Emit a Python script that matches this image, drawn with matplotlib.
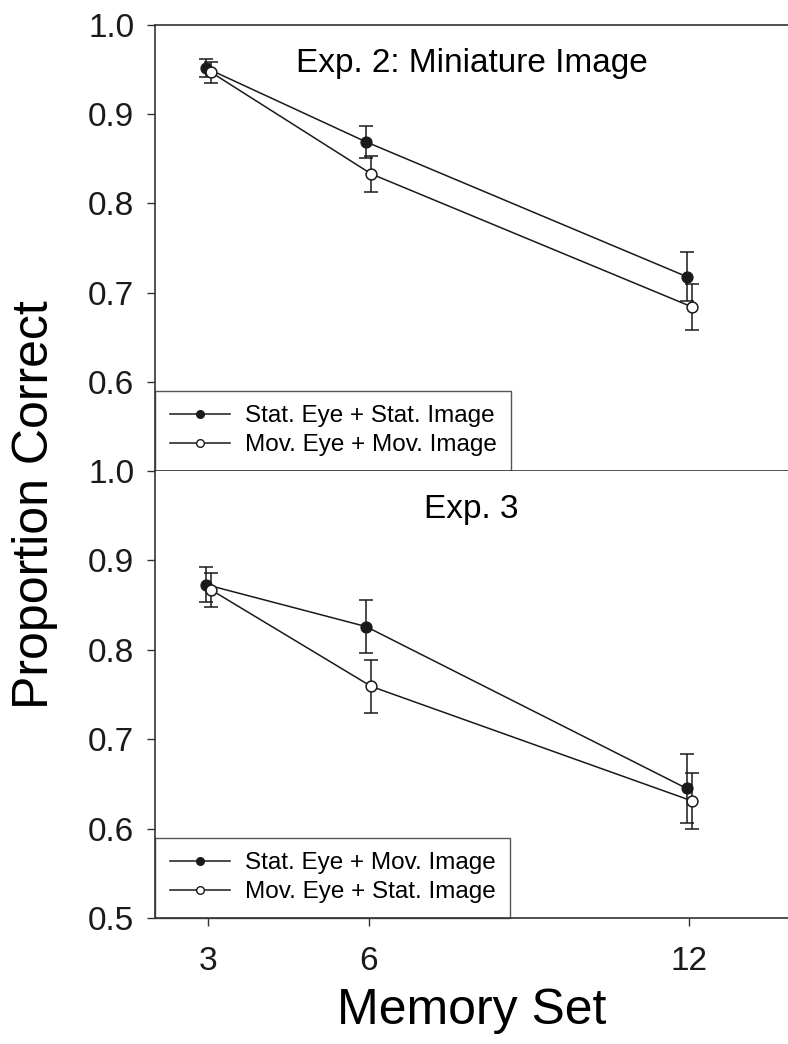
import matplotlib
matplotlib.use("Agg")
import matplotlib.pyplot as plt
from matplotlib.lines import Line2D

plt.rcParams['font.family'] = ['Liberation Sans', 'DejaVu Sans']

# memory set sizes
memory_set = [3, 6, 12]
offset = 0.05  # small horizontal jitter so the two series do not overlap

# Exp. 2: Miniature Image
exp2_stat_stat = [0.952, 0.869, 0.718]
exp2_stat_stat_err = [0.010, 0.018, 0.027]
exp2_mov_mov = [0.947, 0.833, 0.684]
exp2_mov_mov_err = [0.012, 0.020, 0.026]

# Exp. 3
exp3_stat_mov = [0.873, 0.826, 0.645]
exp3_stat_mov_err = [0.020, 0.030, 0.039]
exp3_mov_stat = [0.867, 0.759, 0.631]
exp3_mov_stat_err = [0.019, 0.030, 0.031]

line_col = "#1a1a1a"
spine_col = "#333333"

fig = plt.figure(figsize=(7.88, 10.44), dpi=100)
left, right = 155 / 788, 1.0
ax_top = fig.add_axes([left, 1 - 471 / 1044, right - left, (471 - 25) / 1044])
ax_bot = fig.add_axes([left, 1 - 918 / 1044, right - left, (918 - 471) / 1044])


def draw_panel(ax, y1, e1, y2, e2, lab1, lab2, title):
    x1 = [x - offset for x in memory_set]
    x2 = [x + offset for x in memory_set]
    ax.errorbar(x1, y1, yerr=e1, color=line_col, lw=1.1, marker="o", ms=7.8,
                mfc=line_col, mec=line_col, capsize=5, capthick=1.1,
                elinewidth=1.1, zorder=3)
    ax.errorbar(x2, y2, yerr=e2, color=line_col, lw=1.1, marker="o", ms=7.8,
                mfc="white", mec=line_col, mew=1.1, capsize=5, capthick=1.1,
                elinewidth=1.1, zorder=4)
    ax.set_xlim(2, 13.85)
    ax.set_ylim(0.5, 1.0)
    ax.spines["right"].set_visible(False)
    for s in ["left", "bottom", "top"]:
        ax.spines[s].set_color(spine_col)
        ax.spines[s].set_linewidth(1.2)
        ax.spines[s].set_zorder(6)
    ax.tick_params(direction="out", length=6, width=1, color=spine_col,
                   labelsize=24, pad=9, labelcolor="#1a1a1a")
    ax.text(0.5, 0.913, title, transform=ax.transAxes, ha="center",
            va="center", fontsize=24)
    handles = [
        Line2D([], [], color=line_col, lw=1.1, marker="o", ms=5.5,
               mfc=line_col, mec=line_col),
        Line2D([], [], color=line_col, lw=1.1, marker="o", ms=5.5,
               mfc="white", mec=line_col),
    ]
    leg = ax.legend(handles, [lab1, lab2], loc="lower left", borderaxespad=0,
                    fontsize=17.5, handlelength=2.5, handletextpad=0.6,
                    labelspacing=0.3, borderpad=0.6, fancybox=False,
                    framealpha=1)
    leg.get_frame().set_edgecolor("#555555")
    leg.get_frame().set_linewidth(1.0)


draw_panel(ax_top, exp2_stat_stat, exp2_stat_stat_err, exp2_mov_mov,
           exp2_mov_mov_err, "Stat. Eye + Stat. Image",
           "Mov. Eye + Mov. Image", "Exp. 2: Miniature Image")
draw_panel(ax_bot, exp3_stat_mov, exp3_stat_mov_err, exp3_mov_stat,
           exp3_mov_stat_err, "Stat. Eye + Mov. Image",
           "Mov. Eye + Stat. Image", "Exp. 3")

ax_top.set_yticks([0.6, 0.7, 0.8, 0.9, 1.0])
ax_top.set_yticklabels(["0.6", "0.7", "0.8", "0.9", "1.0"])
ax_top.set_xticks([])
ax_bot.spines["top"].set_visible(False)
ax_bot.set_yticks([0.5, 0.6, 0.7, 0.8, 0.9, 1.0])
ax_bot.set_yticklabels(["0.5", "0.6", "0.7", "0.8", "0.9", "1.0"])
ax_bot.set_xticks(memory_set)
ax_bot.set_xticklabels([str(m) for m in memory_set])
ax_bot.tick_params(axis="x", pad=14)

ax_bot.set_xlabel("Memory Set", fontsize=36, labelpad=8)
fig.text(35 / 788, 1 - 505 / 1044, "Proportion Correct", rotation=90,
         ha="center", va="center", fontsize=36)

fig.savefig("out.png", dpi=100)
